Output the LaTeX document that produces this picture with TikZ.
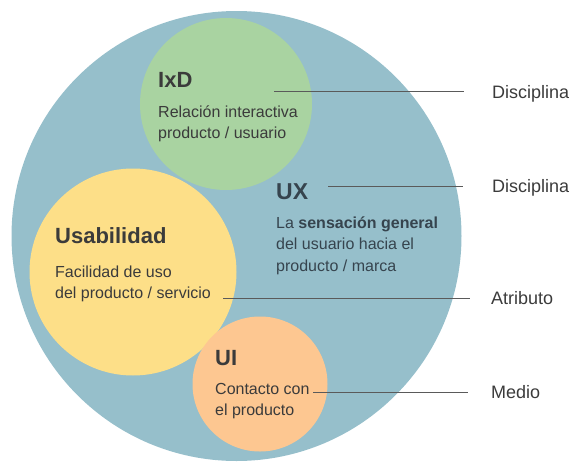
\documentclass[tikz,border=0pt]{standalone}
\usepackage{fontspec}
\setmainfont{Liberation Sans}
\usepackage{xcolor}
\usetikzlibrary{calc}

\definecolor{uxblue}{HTML}{96BFCB}
\definecolor{ixdgreen}{HTML}{A9D3A1}
\definecolor{usayellow}{HTML}{FDDF88}
\definecolor{uiorange}{HTML}{FDC791}
\definecolor{inktext}{HTML}{3B3B3B}
\definecolor{uxtext}{HTML}{36444E}
\definecolor{guidegray}{HTML}{5A5A5A}

\begin{document}
\begin{tikzpicture}[x=1pt, y=-1pt,
    blob/.style={circle, inner sep=0pt},
    heading/.style={anchor=base west, inner sep=0pt, text=inktext, font=\fontsize{22}{26}\selectfont\bfseries},
    body/.style={anchor=base west, inner sep=0pt, align=left, text=inktext, font=\fontsize{16}{21.5}\selectfont},
    tag/.style={anchor=base west, inner sep=0pt, text=inktext, font=\fontsize{18}{21}\selectfont},
    guide/.style={draw=guidegray, line width=0.8pt}]
      \useasboundingbox (0, 0) rectangle (584, 469);

      \node[blob, fill=uxblue, minimum size=450pt] (ux) at (236.5, 236) {};
      \node[blob, fill=ixdgreen, minimum size=172pt] (ixd) at (226, 104) {};
      \node[blob, fill=usayellow, minimum size=207pt] (usa) at (133, 272) {};
      \node[blob, fill=uiorange, minimum size=135pt] (ui) at (260, 384) {};

      \node[heading] (ixdtitle) at (158, 87) {IxD};
      \node[body] (ixdtext) at (158, 138.5) {Relación interactiva\\producto / usuario};

      \node[heading, text=uxtext, font=\fontsize{23}{26}\selectfont\bfseries] (uxtitle) at (276, 199) {UX};
      \node[body, text=uxtext] (uxtext) at (276, 271) {La \textbf{sensación general}\\del usuario hacia el\\producto / marca};

      \node[heading] (usatitle) at (55, 243) {Usabilidad};
      \node[body] (usatext) at (55, 298.5) {Facilidad de uso\\del producto / servicio};

      \node[heading] (uititle) at (215, 365) {UI};
      \node[body] (uitext) at (215, 415.5) {Contacto con\\el producto};

      \node[tag] (disc1) at (492, 98.5) {Disciplina};
      \node[tag] (disc2) at (492, 192.5) {Disciplina};
      \node[tag] (attr) at (491, 304) {Atributo};
      \node[tag] (medium) at (491, 398) {Medio};

      \coordinate (ixdtip) at (274, 91);
      \coordinate (uxtip) at (328, 186);
      \coordinate (usatip) at (223, 298);
      \coordinate (uitip) at (313, 392);

      \draw[guide, shorten >=28pt] (ixdtip) -- (ixdtip -| disc1.west);
      \draw[guide, shorten >=29pt] (uxtip) -- (uxtip -| disc2.west);
      \draw[guide, shorten >=21pt] (usatip) -- (usatip -| attr.west);
      \draw[guide, shorten >=23pt] (uitip) -- (uitip -| medium.west);
    \end{tikzpicture}
\end{document}
